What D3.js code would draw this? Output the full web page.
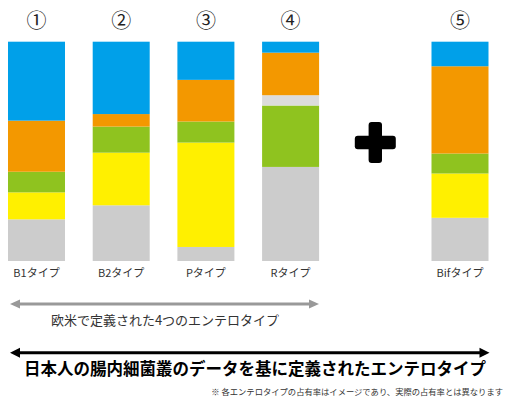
<!DOCTYPE html>
<html><head><meta charset="utf-8">
<script src="https://cdn.jsdelivr.net/npm/d3@7/dist/d3.min.js"></script>
<style>html,body{margin:0;padding:0;background:#fff;}svg{display:block;}</style>
</head><body>
<script>
const categories = ["B1タイプ","B2タイプ","Pタイプ","Rタイプ","Bifタイプ"];
const numbers = ["①","②","③","④","⑤"];
const gray   = [19.0, 25.4, 6.4, 42.9, 19.7];
const yellow = [12.3, 24.0, 47.6, 0, 20.2];
const green  = [9.4, 11.9, 9.6, 28.0, 9.1];
const other  = [0, 0, 0, 4.7, 0];
const orange = [23.3, 5.7, 19.0, 19.4, 39.8];
const blue   = [36.0, 33.0, 17.4, 5.0, 11.2];
const slots = ["B1タイプ","B2タイプ","Pタイプ","Rタイプ","+","Bifタイプ"];
const westLabel = "欧米で定義された4つのエンテロタイプ";
const japanLabel = "日本人の腸内細菌叢のデータを基に定義されたエンテロタイプ";
const note = "※ 各エンテロタイプの占有率はイメージであり、実際の占有率とは異なります";

const W = 515, H = 397;
const font = "'Noto Sans CJK JP','Noto Sans',sans-serif";
const keys = ["gray","yellow","green","other","orange","blue"];
const colors = {gray:"#cccccc", yellow:"#fff000", green:"#8fc31f", other:"#dcdcdc", orange:"#f39800", blue:"#00a0e9"};
const series = {gray, yellow, green, other, orange, blue};
const rows = categories.map((c,i)=>{const r={cat:c}; keys.forEach(k=>r[k]=series[k][i]); return r;});

const svg = d3.select("body").append("svg").attr("width",W).attr("height",H);
const x = d3.scaleBand().domain(slots).range([8,488.5]).paddingInner(0.327).paddingOuter(0);
const y = d3.scaleLinear().domain([0,100]).range([261,41.7]);

const stacked = d3.stack().keys(keys)(rows);
svg.append("g").selectAll("g").data(stacked).join("g")
  .attr("fill", d=>colors[d.key])
  .selectAll("rect").data(d=>d).join("rect")
  .attr("x", d=>x(d.data.cat))
  .attr("width", x.bandwidth())
  .attr("y", d=>y(d[1]))
  .attr("height", d=>Math.max(0, y(d[0])-y(d[1])));

// circled numbers
svg.append("g").selectAll("text").data(categories).join("text")
  .attr("x", d=>x(d)+x.bandwidth()/2).attr("y",27.5)
  .attr("text-anchor","middle").attr("font-family",font).attr("font-size",20).attr("fill","#222")
  .text((d,i)=>numbers[i]);

// category labels
svg.append("g").selectAll("text").data(categories).join("text")
  .attr("x", d=>x(d)+x.bandwidth()/2).attr("y",277)
  .attr("text-anchor","middle").attr("font-family",font).attr("font-size",11).attr("fill","#333")
  .text(d=>d);

// plus sign
const pc = x("+")+x.bandwidth()/2, py = 142.5, L = 20.5, T = 6.7, r = 3;
const plus = svg.append("g").attr("fill","#000");
plus.append("rect").attr("x",pc-L).attr("y",py-T).attr("width",2*L).attr("height",2*T).attr("rx",r);
plus.append("rect").attr("x",pc-T).attr("y",py-L).attr("width",2*T).attr("height",2*L).attr("rx",r);

// arrows
function arrow(x1,x2,yy,color,hw,hl,sw){
  const g = svg.append("g");
  g.append("line").attr("x1",x1+hl-1).attr("x2",x2-hl+1).attr("y1",yy).attr("y2",yy).attr("stroke",color).attr("stroke-width",sw);
  g.append("path").attr("d",`M${x1},${yy}L${x1+hl},${yy-hw}L${x1+hl},${yy+hw}Z`).attr("fill",color);
  g.append("path").attr("d",`M${x2},${yy}L${x2-hl},${yy-hw}L${x2-hl},${yy+hw}Z`).attr("fill",color);
}
arrow(10,319,304,"#999999",4.5,10,3);
arrow(10,489.5,352.7,"#000000",5,10,3);

svg.append("text").attr("x",165).attr("y",325).attr("text-anchor","middle")
  .attr("font-family",font).attr("font-size",13).attr("fill","#333").text(westLabel);
svg.append("text").attr("x",255).attr("y",374.5).attr("text-anchor","middle")
  .attr("font-family",font).attr("font-size",16.5).attr("font-weight","bold").attr("fill","#000").text(japanLabel);
svg.append("text").attr("x",503).attr("y",395).attr("text-anchor","end")
  .attr("font-family",font).attr("font-size",8.3).attr("fill","#333").text(note);
</script>
</body></html>
